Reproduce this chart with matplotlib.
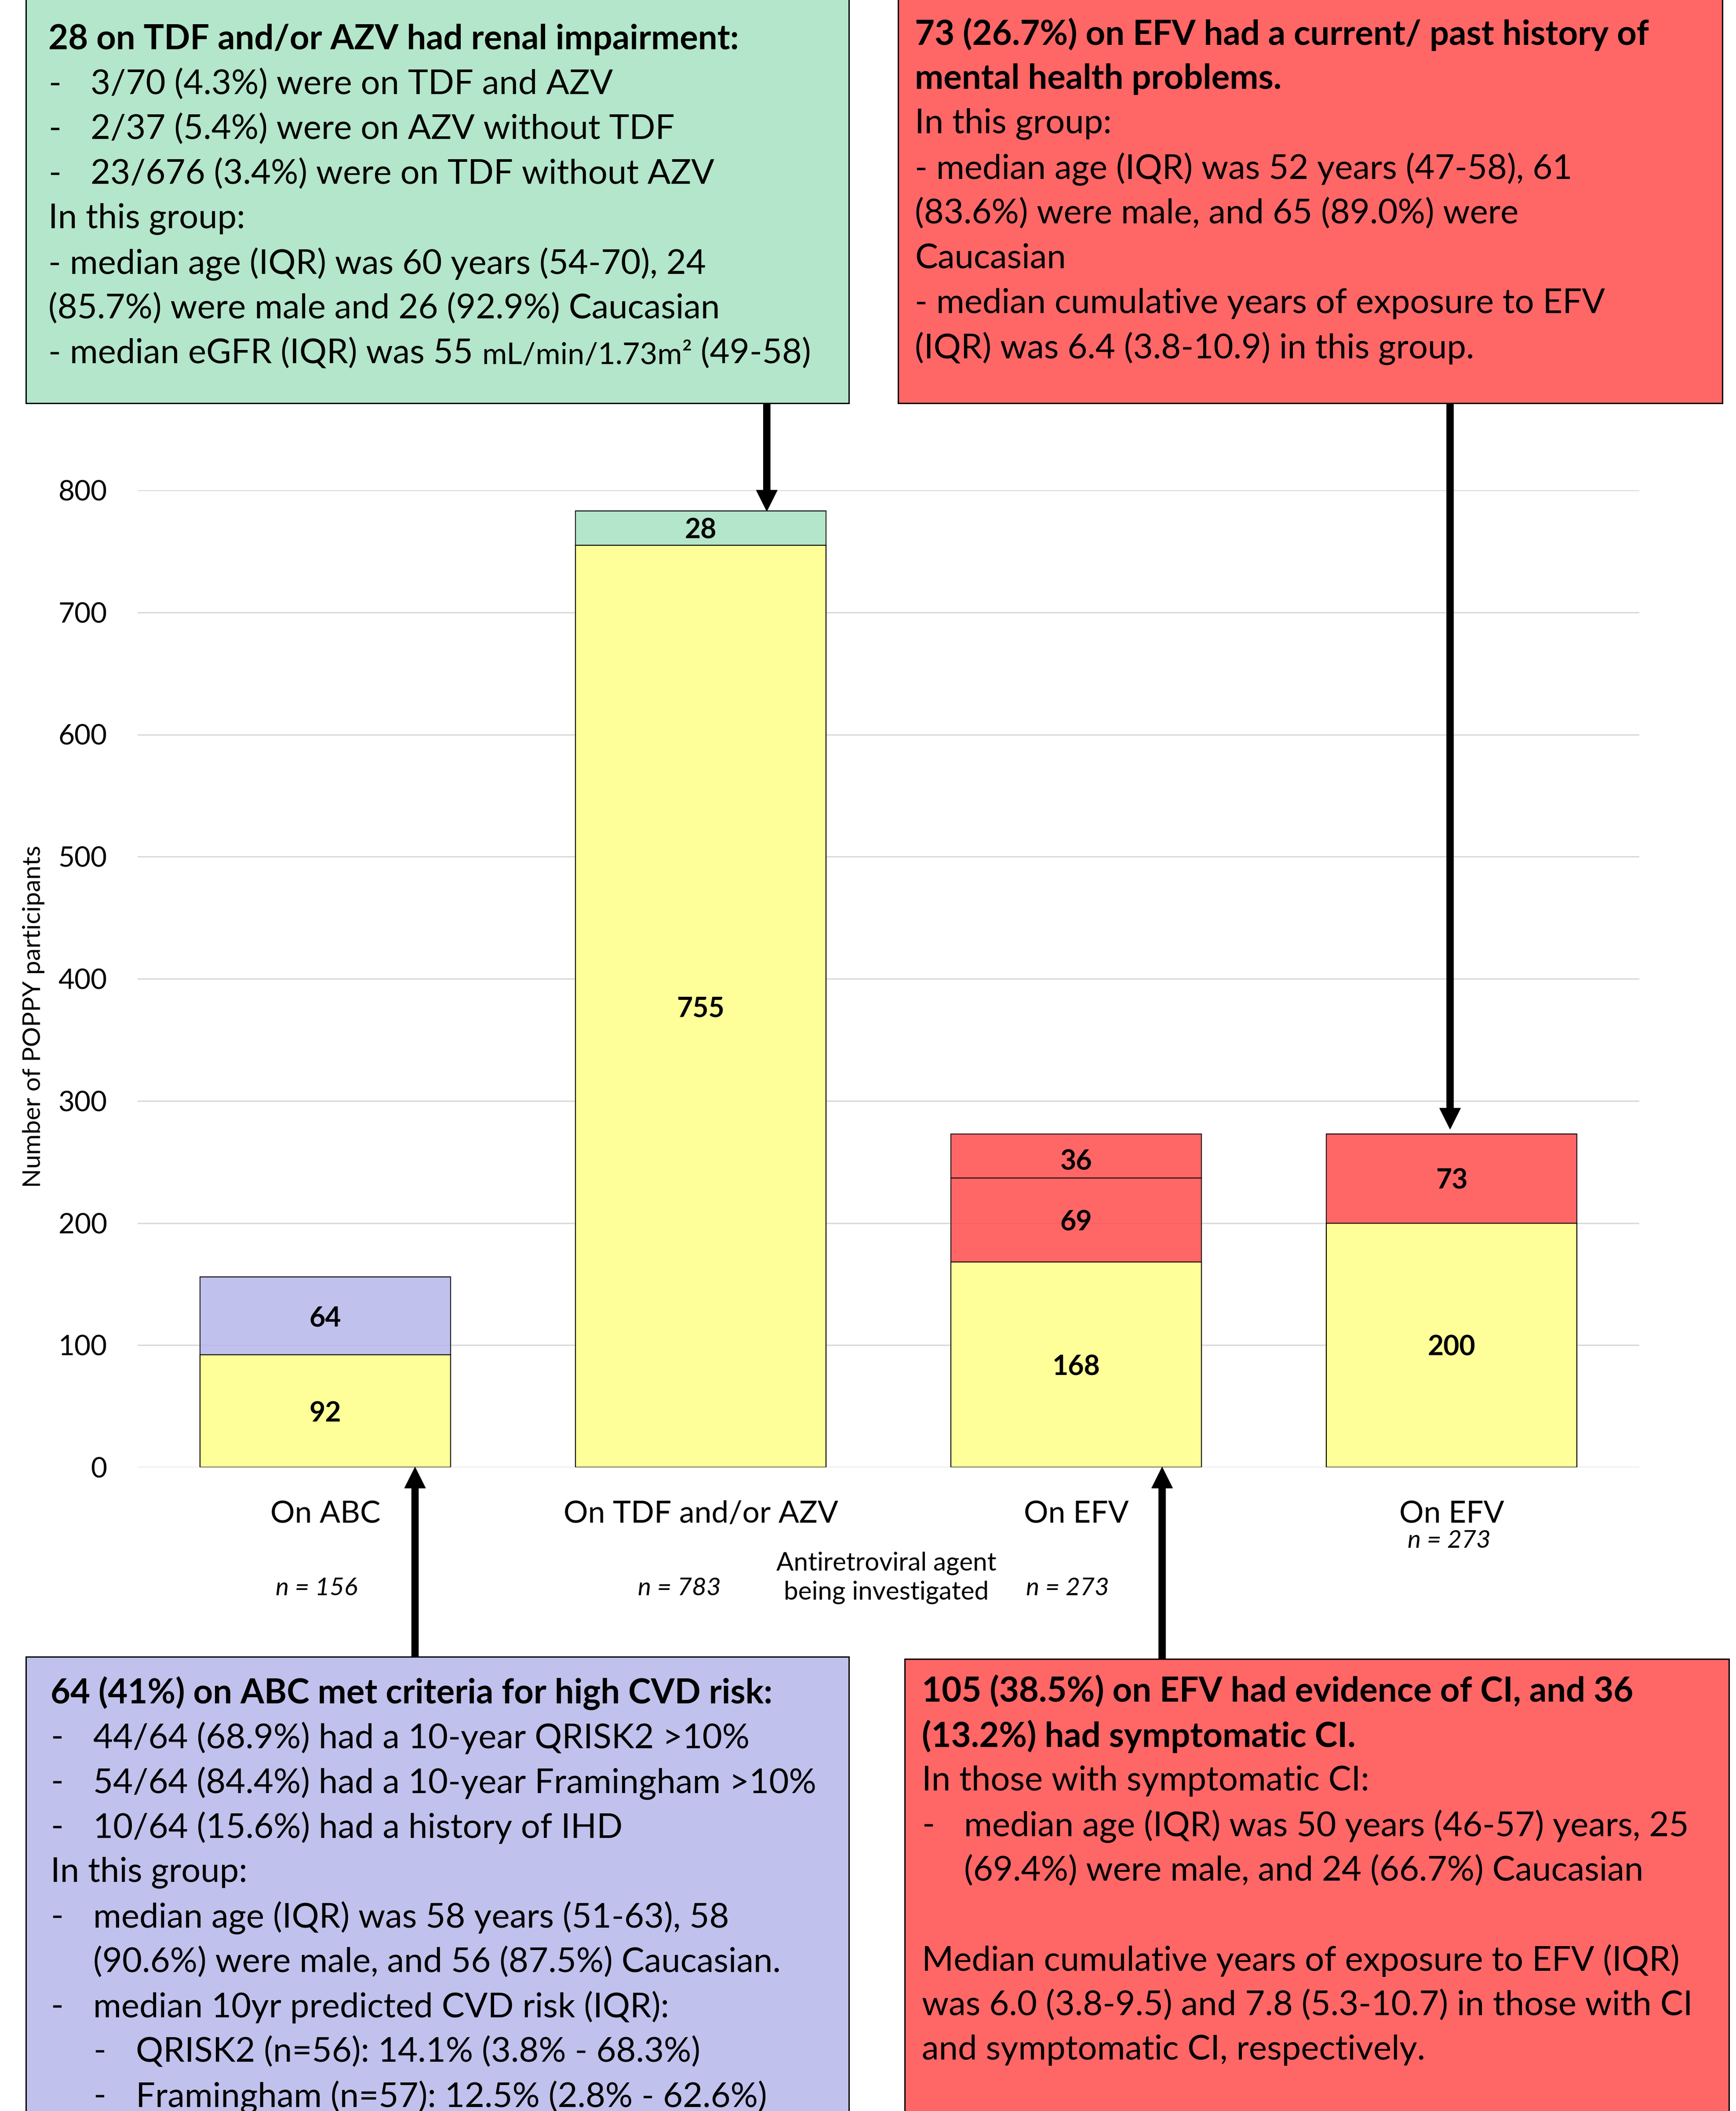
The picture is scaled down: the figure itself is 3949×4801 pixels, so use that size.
import matplotlib
matplotlib.use("Agg")
import matplotlib.pyplot as plt
import matplotlib.transforms as mtransforms
from matplotlib.patches import Rectangle

plt.rcParams['font.family'] = ['Lato', 'DejaVu Sans']

W, H = 3949, 4801

# ---- data ----
groups = ['On ABC', 'On TDF and/or AZV', 'On EFV', 'On EFV']
n_labels = ['n = 156', 'n = 783', 'n = 273', 'n = 273']
base_vals = [92, 755, 168, 200]      # no flagged condition
flag_vals = [64, 28, 69, 73]         # high CVD risk / renal / CI / mental health
symptom_vals = [0, 0, 36, 0]         # symptomatic CI on EFV
yticks = [0, 100, 200, 300, 400, 500, 600, 700, 800]

# ---- colours ----
YELLOW = '#FFFF99'
GREEN = '#B3E6CA'
RED = '#FF6666'
PURPLE = '#C1C1ED'
# slightly stronger fills so that, semi transparent, they show the same tint
GREEN_T = '#A6E2C1'
RED_T = '#FF4B4B'
PURPLE_T = '#B6B6EA'
flag_colors = [PURPLE_T, GREEN_T, RED_T, RED_T]

FS = 56  # box text size

fig = plt.figure(figsize=(W / 100, H / 100), dpi=100)

# main bar chart
ax = fig.add_axes([313 / W, 1 - 3337 / H, (3729 - 313) / W, (3337 - 1115) / H])
x = range(len(groups))
bw = 2 / 3
ax.bar(x, base_vals, width=bw, color=YELLOW, edgecolor='black', linewidth=1.6, zorder=2)
ax.bar(x, flag_vals, width=bw, bottom=base_vals, color=flag_colors, alpha=0.85,
       edgecolor='black', linewidth=1.6, zorder=2)
tops = [b + f for b, f in zip(base_vals, flag_vals)]
ax.bar(x, symptom_vals, width=bw, bottom=tops, color=RED_T, alpha=0.85,
       edgecolor=['none' if v == 0 else 'black' for v in symptom_vals],
       linewidth=1.6, zorder=2)

for i in x:
    ax.text(i, base_vals[i] / 2 - 2, str(base_vals[i]), ha='center', va='center',
            fontsize=45, fontweight='bold', zorder=3)
    ax.text(i, base_vals[i] + flag_vals[i] / 2 - 2, str(flag_vals[i]), ha='center',
            va='center', fontsize=45, fontweight='bold', zorder=3)
    if symptom_vals[i]:
        ax.text(i, tops[i] + symptom_vals[i] / 2 - 5, str(symptom_vals[i]),
                ha='center', va='center', fontsize=45, fontweight='bold', zorder=3)

ax.set_xlim(-0.5, 3.5)
ax.set_ylim(0, 800)
ax.set_yticks(yticks)
ax.set_yticklabels([str(t) for t in yticks], fontsize=46)
ax.set_xticks(list(x))
ax.set_xticklabels(groups, fontsize=50)
ax.tick_params(axis='both', length=0)
ax.tick_params(axis='y', pad=50)
ax.tick_params(axis='x', pad=54)
ax.grid(axis='y', color='#D9D9D9', linewidth=2.2, zorder=0)
ax.set_axisbelow(True)
for s in ax.spines.values():
    s.set_visible(False)

# overlay in pixel coordinates for the text boxes and arrows
ov = fig.add_axes([0, 0, 1, 1])
ov.set_xlim(0, W)
ov.set_ylim(H, 0)
ov.axis('off')

fig.text(77 / W, 1 - 2312 / H, 'Number of POPPY participants', rotation=90,
         ha='center', va='center', fontsize=41)

# sample sizes under the category names
n_x = [-0.023, 0.943, 1.977, 2.993]
n_y = [3613, 3613, 3613, 3505]
mix = mtransforms.blended_transform_factory(ax.transData, ov.transData)
for xi, yi, lab in zip(n_x, n_y, n_labels):
    ov.text(xi, yi, lab, transform=mix, ha='center', va='center',
            fontsize=41, fontstyle='italic')

ov.text(2016, 3588, 'Antiretroviral agent\nbeing investigated', ha='center',
        va='center', fontsize=42, linespacing=1.28)


def draw_box(x0, y0, x1, y1, color, lines, xl, xi, y_first, step=102):
    ov.add_patch(Rectangle((x0, y0), x1 - x0, y1 - y0, facecolor=color,
                           edgecolor='black', linewidth=2.2, zorder=1))
    for k, (level, txt, bold) in enumerate(lines):
        y = y_first + k * step
        if not txt:
            continue
        w = 'bold' if bold else 'normal'
        if level == 1:
            ov.text(xl, y, '-', fontsize=FS, va='center', ha='left')
            tx = xi
        elif level == 2:
            tx = xi
        elif level == 3:
            ov.text(xi, y, '-', fontsize=FS, va='center', ha='left')
            tx = xi + (xi - xl)
        else:
            tx = xl
        if isinstance(txt, list):
            prev = None
            for piece, scale in txt:
                if prev is None:
                    prev = ov.text(tx, y, piece, fontsize=FS * scale, va='center',
                                   ha='left', fontweight=w)
                else:
                    prev = ov.annotate(piece, xy=(1, 0), xycoords=prev,
                                       fontsize=FS * scale, va='bottom',
                                       ha='left', fontweight=w)
        else:
            ov.text(tx, y, txt, fontsize=FS, va='center', ha='left', fontweight=w)


green_lines = [
    (0, '28 on TDF and/or AZV had renal impairment:', True),
    (1, '3/70 (4.3%) were on TDF and AZV', False),
    (1, '2/37 (5.4%) were on AZV without TDF', False),
    (1, '23/676 (3.4%) were on TDF without AZV', False),
    (0, 'In this group:', False),
    (0, '- median age (IQR) was 60 years (54-70), 24', False),
    (0, '(85.7%) were male and 26 (92.9%) Caucasian', False),
    (0, [('- median eGFR (IQR) was 55 ', 1.0), ('mL/min/1.73m\u00b2', 0.88),
         (' (49-58)', 1.0)], False),
]
draw_box(59, -20, 1931, 917, GREEN, green_lines, 110, 206, 90)

red_top_lines = [
    (0, '73 (26.7%) on EFV had a current/ past history of', True),
    (0, 'mental health problems.', True),
    (0, 'In this group:', False),
    (0, '- median age (IQR) was 52 years (47-58), 61', False),
    (0, '(83.6%) were male, and 65 (89.0%) were', False),
    (0, 'Caucasian', False),
    (0, '- median cumulative years of exposure to EFV', False),
    (0, '(IQR) was 6.4 (3.8-10.9) in this group.', False),
]
draw_box(2043, -20, 3918, 917, RED, red_top_lines, 2081, 2177, 78)

purple_lines = [
    (0, '64 (41%) on ABC met criteria for high CVD risk:', True),
    (1, '44/64 (68.9%) had a 10-year QRISK2 >10%', False),
    (1, '54/64 (84.4%) had a 10-year Framingham >10%', False),
    (1, '10/64 (15.6%) had a history of IHD', False),
    (0, 'In this group:', False),
    (1, 'median age (IQR) was 58 years (51-63), 58', False),
    (2, '(90.6%) were male, and 56 (87.5%) Caucasian.', False),
    (1, 'median 10yr predicted CVD risk (IQR):', False),
    (3, 'QRISK2 (n=56): 14.1% (3.8% - 68.3%)', False),
    (3, 'Framingham (n=57): 12.5% (2.8% - 62.6%)', False),
]
draw_box(59, 3768, 1931, H + 40, PURPLE, purple_lines, 115, 212, 3851)

red_bottom_lines = [
    (0, '105 (38.5%) on EFV had evidence of CI, and 36', True),
    (0, '(13.2%) had symptomatic CI.', True),
    (0, 'In those with symptomatic CI:', False),
    (1, 'median age (IQR) was 50 years (46-57) years, 25', False),
    (2, '(69.4%) were male, and 24 (66.7%) Caucasian', False),
    (0, '', False),
    (0, 'Median cumulative years of exposure to EFV (IQR)', False),
    (0, 'was 6.0 (3.8-9.5) and 7.8 (5.3-10.7) in those with CI', False),
    (0, 'and symptomatic CI, respectively.', False),
]
draw_box(2058, 3773, 3933, H + 40, RED, red_bottom_lines, 2097, 2193, 3847)

# arrows from the boxes to the bars they describe
arrow_kw = dict(facecolor='black', edgecolor='black',
                width=11, headwidth=34, headlength=34, shrink=0)
arrows = [  # (bar x, bar value, box edge y in pixels)
    (1.176, tops[1], 917),
    (2.996, tops[3] + 4, 917),
    (0.239, 0, 3768),
    (2.229, 0, 3773),
]
for bx, bv, by in arrows:
    px = ax.transData.transform((bx, bv))
    tip = ov.transData.inverted().transform(px)
    ov.annotate('', xy=(tip[0], tip[1]), xytext=(tip[0], by),
                arrowprops=arrow_kw, zorder=5)

fig.savefig('out.png', dpi=100)
